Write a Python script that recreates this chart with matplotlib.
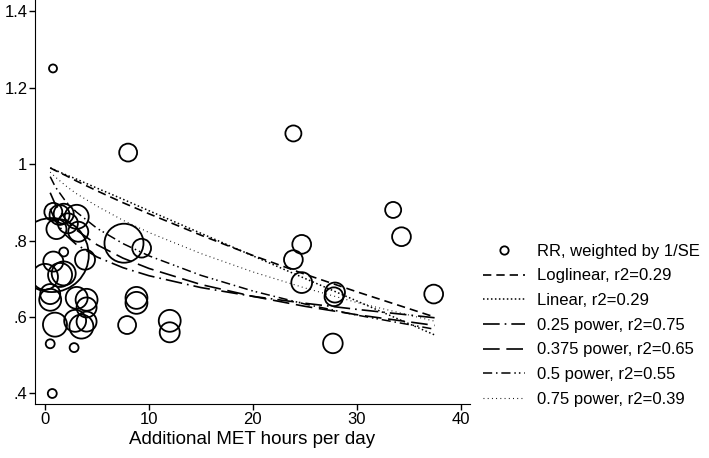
import numpy as np
import matplotlib
matplotlib.use("Agg")
import matplotlib.pyplot as plt
from matplotlib.lines import Line2D

plt.rcParams['font.family'] = ['Liberation Sans', 'DejaVu Sans']

# Study estimates: MET hours/day, relative risk, weight (1/SE)
met = [0.77, 8.0, 23.9, 33.5, 34.3, 24.7, 23.9, 24.7, 27.9, 27.8, 37.4, 27.7,
       9.3, 7.6, 8.8, 8.8, 7.9, 12.0, 12.0,
       0.65, 0.5, 2.8, 0.7, 1.8,
       0.8, 1.4, 1.8, 3.05, 1.1, 3.2, 2.2,
       3.85, 0.8, 1.8, 0.0, 1.45, 0.5, 3.05, 4.0, 4.0, 0.5,
       0.96, 2.9, 3.5, 4.0]
rr = [1.25, 1.03, 1.08, 0.88, 0.81, 0.79, 0.75, 0.69, 0.664, 0.653, 0.66, 0.531,
      0.78, 0.793, 0.65, 0.637, 0.579, 0.59, 0.56,
      0.762, 0.53, 0.52, 0.40, 0.77,
      0.875, 0.867, 0.87, 0.862, 0.83, 0.823, 0.845,
      0.75, 0.745, 0.714, 0.705, 0.71, 0.645, 0.65, 0.645, 0.625, 0.66,
      0.58, 0.59, 0.575, 0.588]
inv_se = [4, 20, 16, 16, 22, 22, 22, 27, 25, 22, 22, 24,
          22, 95, 30, 30, 20, 30, 25,
          342, 5, 5, 5, 5,
          20, 25, 25, 36, 25, 25, 25,
          25, 25, 36, 42, 36, 30, 30, 30, 25, 25,
          36, 30, 36, 25]

# Fitted curves
fit_x = [0.5, 1, 2, 3, 5, 7.5, 10, 15, 20, 25, 30, 37.5]
loglinear = [0.990, 0.983, 0.970, 0.956, 0.930, 0.899, 0.870, 0.814, 0.761, 0.712, 0.666, 0.600]
linear = [0.990, 0.984, 0.972, 0.961, 0.937, 0.908, 0.878, 0.819, 0.760, 0.701, 0.642, 0.553]
pow025 = [0.883, 0.851, 0.814, 0.790, 0.757, 0.729, 0.708, 0.677, 0.654, 0.636, 0.620, 0.598]
pow0375 = [0.925, 0.894, 0.855, 0.828, 0.789, 0.754, 0.727, 0.685, 0.654, 0.628, 0.606, 0.578]
pow05 = [0.967, 0.940, 0.902, 0.875, 0.832, 0.792, 0.760, 0.709, 0.668, 0.634, 0.605, 0.568]
pow075 = [0.979, 0.966, 0.943, 0.923, 0.890, 0.853, 0.821, 0.766, 0.718, 0.676, 0.638, 0.589]

labels = ["RR, weighted by 1/SE", "Loglinear, r2=0.29", "Linear, r2=0.29",
          "0.25 power, r2=0.75", "0.375 power, r2=0.65", "0.5 power, r2=0.55",
          "0.75 power, r2=0.39"]

fig = plt.figure(figsize=(7.09, 4.58), dpi=100)
ax = fig.add_axes([0.0494, 0.1179, 0.6136, 0.8821])

ax.scatter(met, rr, s=np.array(inv_se) * 8.3, facecolors='none',
           edgecolors='black', linewidths=1.3, zorder=3)

styles = [(0, (5, 3)), (0, (1, 1.6)), (0, (10, 3, 1, 3)), (0, (10, 4)),
          (0, (6, 2.5, 1, 2.5, 6, 2.5, 1, 2, 1, 2.5)), (0, (0.8, 3))]
widths = [1.2, 1.1, 1.2, 1.2, 1.1, 0.8]
curves = [loglinear, linear, pow025, pow0375, pow05, pow075]
handles = [Line2D([], [], marker='o', ls='none', mfc='none', mec='black',
                  mew=1.3, ms=6)]
for c, ls, lw in zip(curves, styles, widths):
    ax.plot(fit_x, c, color='black', ls=ls, lw=lw, zorder=2)
    handles.append(Line2D([], [], color='black', ls=ls, lw=lw))

ax.set_xlim(-0.96, 40.9)
ax.set_ylim(0.3725, 1.429)
ax.set_xticks([0, 10, 20, 30, 40])
ax.set_yticks([1.4, 1.2, 1.0, 0.8, 0.6, 0.4])
ax.set_yticklabels(["1.4", "1.2", "1", ".8", ".6", ".4"])
ax.tick_params(labelsize=12, length=4, width=1, direction='out', pad=1.5)
for s in ['top', 'right']:
    ax.spines[s].set_visible(False)
ax.set_xlabel("Additional MET hours per day", fontsize=13.5, labelpad=3)

fig.legend(handles, labels, loc='center left', bbox_to_anchor=(0.66, 0.290),
           frameon=False, fontsize=12, handlelength=2.5, handletextpad=0.72,
           labelspacing=0.58)

fig.savefig("out.png", dpi=100)
